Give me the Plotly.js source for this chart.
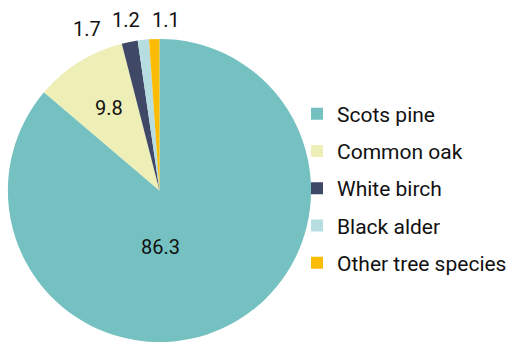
<!DOCTYPE html>
<html>
<head>
<meta charset="utf-8">
<script src="https://cdn.plot.ly/plotly-3.0.1.min.js"></script>
<style>html,body{margin:0;padding:0;background:#fff;}#chart{width:512px;height:344px;}</style>
</head>
<body>
<div id="chart"></div>
<script>
const labels = ["Scots pine", "Common oak", "White birch", "Black alder", "Other tree species"];
const values = [86.3, 9.8, 1.7, 1.2, 1.1];
const colors = ["#75c1c1", "#eeeeb7", "#404868", "#b6dde0", "#fbbc05"];

// positions (paper coords) of the value labels
const labelPos = [[0.318, 0.282], [0.217, 0.686], [0.172, 0.916], [0.25, 0.942], [0.33, 0.942]];

const pie = {
  type: "pie",
  labels: labels,
  values: values,
  sort: false,
  direction: "clockwise",
  rotation: 0,
  marker: {colors: colors, line: {width: 0}},
  textinfo: "none",
  hoverinfo: "label+value",
  showlegend: false,
  domain: {x: [8/512, 316/512], y: [1/344, 306/344]}
};

const legendTraces = labels.map((l, i) => ({
  type: "scatter",
  mode: "markers",
  x: [null], y: [null],
  name: l,
  legendgroup: "g" + i,
  marker: {symbol: "square", size: 11, color: colors[i]},
  showlegend: true,
  hoverinfo: "skip"
}));

const annotations = values.map((v, i) => ({
  xref: "paper", yref: "paper",
  x: labelPos[i][0], y: labelPos[i][1],
  xanchor: "center", yanchor: "middle",
  text: v.toFixed(1),
  showarrow: false,
  font: {family: "Roboto", size: 20, color: "#111"}
}));

const layout = {
  width: 512, height: 344,
  margin: {l: 0, r: 0, t: 0, b: 0},
  paper_bgcolor: "#fff",
  plot_bgcolor: "#fff",
  font: {family: "Roboto", size: 20, color: "#111"},
  xaxis: {visible: false},
  yaxis: {visible: false},
  showlegend: true,
  annotations: annotations,
  legend: {
    x: 302/512, xanchor: "left",
    y: 0.452, yanchor: "middle",
    traceorder: "grouped",
    tracegroupgap: 7,
    itemsizing: "constant",
    font: {family: "Roboto", size: 21, color: "#111"},
    bgcolor: "rgba(0,0,0,0)"
  }
};

Plotly.newPlot("chart", [pie].concat(legendTraces), layout, {displayModeBar: false, staticPlot: true});
</script>
</body>
</html>
